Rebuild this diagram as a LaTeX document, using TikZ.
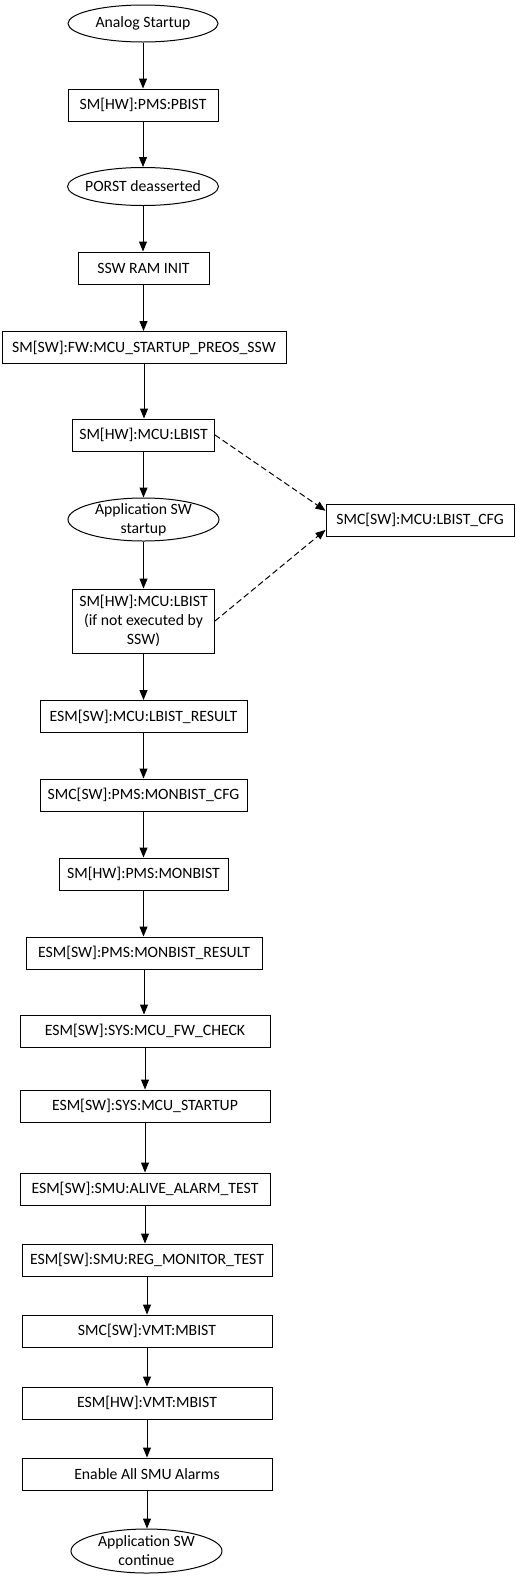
\documentclass[tikz,border=0pt]{standalone}
\usepackage{fontspec}
\setmainfont{Carlito}
\usetikzlibrary{shapes.geometric,arrows.meta,calc}
\begin{document}
\begin{tikzpicture}[x=0.75pt,y=-0.75pt,
  every node/.style={font=\fontsize{11.8pt}{14.3pt}\selectfont},
  box/.style={draw, rectangle, inner sep=0pt, align=center, line width=0.75pt},
  ov/.style={draw, ellipse, inner sep=0pt, line width=0.75pt},
  flow/.style={-{Triangle[length=7.5pt,width=6pt]}, line width=0.75pt},
  dflow/.style={flow, dash pattern=on 4.5pt off 2.5pt}]
\useasboundingbox (0,0) rectangle (515,1582);

\node[ov, minimum width=150*0.75pt, minimum height=37*0.75pt, label={center:Analog Startup}] (as) at (143,23.5) {};
\node[box, minimum width=150*0.75pt, minimum height=32*0.75pt] (pbist) at (143,105) {SM[HW]:PMS:PBIST};
\node[ov, minimum width=151*0.75pt, minimum height=38*0.75pt, label={center:PORST deasserted}] (porst) at (143,186.5) {};
\node[box, minimum width=131*0.75pt, minimum height=32*0.75pt] (ram) at (143.5,268) {SSW RAM INIT};
\node[box, minimum width=284*0.75pt, minimum height=32*0.75pt] (preos) at (144,347.5) {SM[SW]:FW:MCU\_STARTUP\_PREOS\_SSW};
\node[box, minimum width=142*0.75pt, minimum height=32*0.75pt] (lbist1) at (143.5,435) {SM[HW]:MCU:LBIST};
\node[ov, minimum width=151*0.75pt, minimum height=43*0.75pt, label={[align=center]center:Application SW\\startup}] (appstart) at (143.5,519.5) {};
\node[box, minimum width=142*0.75pt, minimum height=64*0.75pt] (lbist2) at (143.5,621) {SM[HW]:MCU:LBIST\\(if not executed by\\SSW)};
\node[box, minimum width=188*0.75pt, minimum height=32*0.75pt] (lbistcfg) at (420,520) {SMC[SW]:MCU:LBIST\_CFG};
\node[box, minimum width=207*0.75pt, minimum height=32*0.75pt] (lbistres) at (143.5,716.5) {ESM[SW]:MCU:LBIST\_RESULT};
\node[box, minimum width=207*0.75pt, minimum height=32*0.75pt] (monbistcfg) at (143.5,795) {SMC[SW]:PMS:MONBIST\_CFG};
\node[box, minimum width=169*0.75pt, minimum height=32*0.75pt] (monbist) at (143.5,874) {SM[HW]:PMS:MONBIST};
\node[box, minimum width=236*0.75pt, minimum height=32*0.75pt] (monbistres) at (144,953) {ESM[SW]:PMS:MONBIST\_RESULT};
\node[box, minimum width=250*0.75pt, minimum height=32*0.75pt] (fwcheck) at (145,1031) {ESM[SW]:SYS:MCU\_FW\_CHECK};
\node[box, minimum width=250*0.75pt, minimum height=32*0.75pt] (mcustart) at (145,1106) {ESM[SW]:SYS:MCU\_STARTUP};
\node[box, minimum width=250*0.75pt, minimum height=32*0.75pt] (alive) at (145,1189) {ESM[SW]:SMU:ALIVE\_ALARM\_TEST};
\node[box, minimum width=250*0.75pt, minimum height=32*0.75pt] (regmon) at (147,1260) {ESM[SW]:SMU:REG\_MONITOR\_TEST};
\node[box, minimum width=250*0.75pt, minimum height=32*0.75pt] (vmtsmc) at (147,1331) {SMC[SW]:VMT:MBIST};
\node[box, minimum width=250*0.75pt, minimum height=32*0.75pt] (vmtesm) at (147,1403) {ESM[HW]:VMT:MBIST};
\node[box, minimum width=250*0.75pt, minimum height=32*0.75pt] (enable) at (147,1474) {Enable All SMU Alarms};
\node[ov, minimum width=151*0.75pt, minimum height=44*0.75pt, label={[align=center]center:Application SW\\continue}] (appcont) at (146.5,1551) {};

\draw[flow] (as.south) -- (as.south |- pbist.north);
\draw[flow] (pbist.south) -- (pbist.south |- porst.north);
\draw[flow] (porst.south) -- (porst.south |- ram.north);
\draw[flow] (ram.south) -- (ram.south |- preos.north);
\draw[flow] (preos.south) -- (preos.south |- lbist1.north);
\draw[flow] (lbist1.south) -- (lbist1.south |- appstart.north);
\draw[flow] (appstart.south) -- (appstart.south |- lbist2.north);
\draw[flow] (lbist2.south) -- (lbist2.south |- lbistres.north);
\draw[flow] (lbistres.south) -- (lbistres.south |- monbistcfg.north);
\draw[flow] (monbistcfg.south) -- (monbistcfg.south |- monbist.north);
\draw[flow] (monbist.south) -- (monbist.south |- monbistres.north);
\draw[flow] (monbistres.south) -- (monbistres.south |- fwcheck.north);
\draw[flow] (fwcheck.south) -- (fwcheck.south |- mcustart.north);
\draw[flow] (mcustart.south) -- (mcustart.south |- alive.north);
\draw[flow] (alive.south) -- (alive.south |- regmon.north);
\draw[flow] (regmon.south) -- (regmon.south |- vmtsmc.north);
\draw[flow] (vmtsmc.south) -- (vmtsmc.south |- vmtesm.north);
\draw[flow] (vmtesm.south) -- (vmtesm.south |- enable.north);
\draw[flow] (enable.south) -- (enable.south |- appcont.north);

\draw[dflow] (lbist1.east) -- ($(lbistcfg.north west)!0.22!(lbistcfg.south west)$);
\draw[dflow] (lbist2.east) -- ($(lbistcfg.north west)!0.8!(lbistcfg.south west)$);
\end{tikzpicture}
\end{document}
